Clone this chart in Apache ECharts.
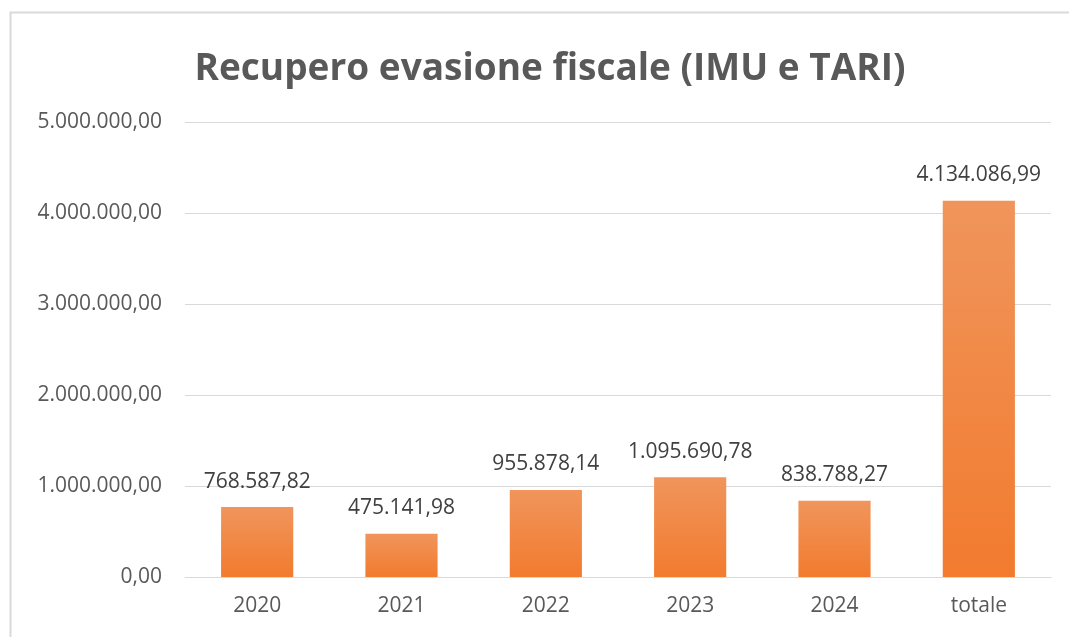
<!DOCTYPE html>
<html><head><meta charset="utf-8">
<script src="https://cdn.jsdelivr.net/npm/echarts@6/dist/echarts.min.js"></script>
<style>html,body{margin:0;padding:0;background:#fff}#c{width:1069px;height:637px}</style>
</head><body><div id="c"></div>
<script>
const categories = ['2020','2021','2022','2023','2024','totale'];
const values = [768587.82, 475141.98, 955878.14, 1095690.78, 838788.27, 4134086.99];
const yMin = 0, yMax = 5000000, yStep = 1000000;

function fmt(v){
  const neg = v < 0; v = Math.abs(v);
  const s = v.toFixed(2);
  let [i, d] = s.split('.');
  i = i.replace(/\B(?=(\d{3})+(?!\d))/g, '.');
  return (neg ? '-' : '') + i + ',' + d;
}
const FONT = '"Open Sans", "Noto Sans", sans-serif';
const chart = echarts.init(document.getElementById('c'));
chart.setOption({
  animation: false,
  title: {
    text: 'Recupero evasione fiscale (IMU e TARI)',
    left: 545, textAlign: 'center', top: 46,
    textStyle: {fontFamily: FONT, fontSize: 37, fontWeight: 'bold', color: '#595959'}
  },
  graphic: [{
    type: 'rect', shape: {x: 10.5, y: 12.5, width: 1200, height: 800},
    style: {fill: 'none', stroke: '#d9d9d9', lineWidth: 2}, silent: true
  }],
  grid: {left: 185, right: 18, top: 122, bottom: 60},
  xAxis: {
    type: 'category', data: categories,
    axisLine: {lineStyle: {color: '#d9d9d9', width: 1}},
    axisTick: {show: false},
    axisLabel: {fontFamily: FONT, fontSize: 21, color: '#595959', margin: 19}
  },
  yAxis: {
    type: 'value', min: yMin, max: yMax, interval: yStep,
    axisLine: {show: false}, axisTick: {show: false},
    splitLine: {lineStyle: {color: '#d9d9d9', width: 1}},
    axisLabel: {fontFamily: FONT, fontSize: 21, color: '#595959', margin: 23, formatter: fmt}
  },
  series: [{
    type: 'bar', data: values, barWidth: '50%',
    itemStyle: {color: new echarts.graphic.LinearGradient(0,0,0,1,[
      {offset: 0, color: '#F0955C'}, {offset: 1, color: '#F27B2E'}])},
    label: {show: true, position: 'top', distance: 15, fontFamily: FONT, fontSize: 21, color: '#404040',
      formatter: p => fmt(p.value)}
  }]
});
</script></body></html>
